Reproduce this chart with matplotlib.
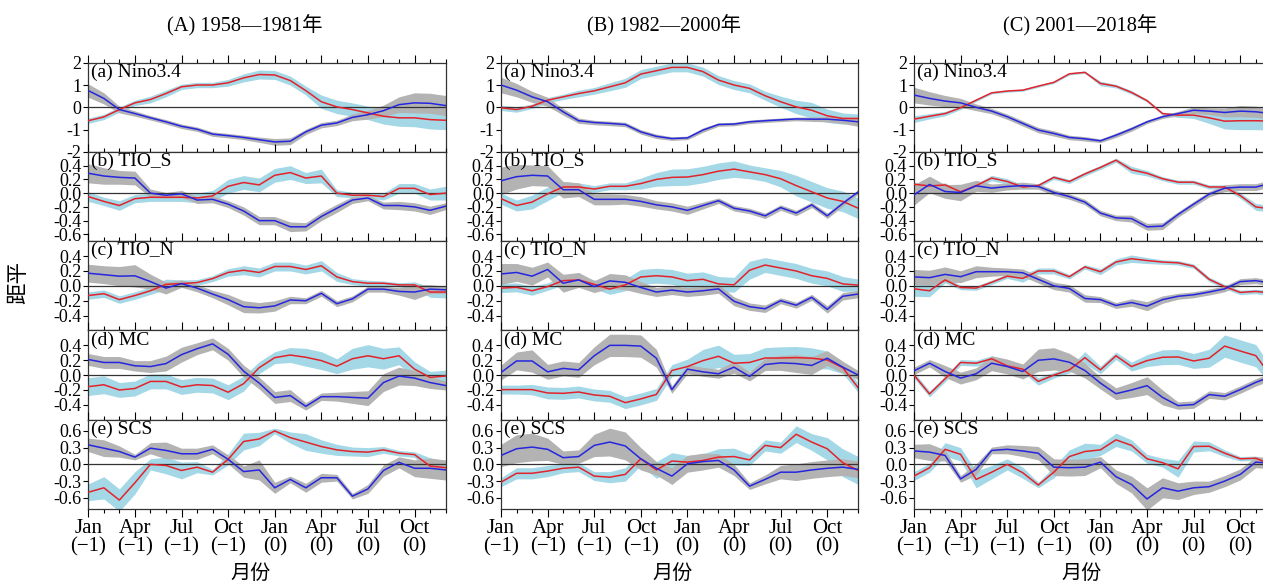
import numpy as np
import matplotlib
matplotlib.use("Agg")
import matplotlib.pyplot as plt
from matplotlib.ticker import FixedLocator, FormatStrFormatter

plt.rcParams['font.family'] = ['Liberation Serif', 'Noto Sans CJK SC', 'DejaVu Sans']
plt.rcParams['axes.unicode_minus'] = True

# ---------------- data ----------------
months = list(range(24))
xtick_pos = [0, 3, 6, 9, 12, 15, 18, 21]
xtick_labels = ["Jan\n(\u22121)", "Apr\n(\u22121)", "Jul\n(\u22121)", "Oct\n(\u22121)",
                "Jan\n(0)", "Apr\n(0)", "Jul\n(0)", "Oct\n(0)"]
column_titles = ["(A) 1958\u20141981年", "(B) 1982\u20142000年", "(C) 2001\u20142018年"]
panel_names = ["(a) Nino3.4", "(b) TIO_S", "(c) TIO_N", "(d) MC", "(e) SCS"]

# ---- Column A ----
nino_A_red = [-0.6, -0.43, -0.1, 0.2, 0.35, 0.62, 0.92, 1.0, 1.0, 1.1, 1.32, 1.47, 1.45, 1.2, 0.75, 0.25, 0.02, -0.1, -0.25, -0.4, -0.47, -0.47, -0.55, -0.58]
nino_A_red_sd = [0.12, 0.12, 0.12, 0.12, 0.15, 0.15, 0.12, 0.12, 0.12, 0.15, 0.18, 0.2, 0.2, 0.2, 0.2, 0.3, 0.3, 0.3, 0.3, 0.35, 0.38, 0.4, 0.42, 0.42]
nino_A_blue = [0.75, 0.4, -0.1, -0.28, -0.47, -0.65, -0.85, -0.98, -1.2, -1.27, -1.35, -1.45, -1.55, -1.52, -1.1, -0.8, -0.7, -0.45, -0.33, -0.15, 0.12, 0.2, 0.18, 0.08]
nino_A_blue_sd = [0.3, 0.25, 0.15, 0.12, 0.1, 0.1, 0.1, 0.1, 0.1, 0.1, 0.1, 0.12, 0.15, 0.15, 0.12, 0.12, 0.12, 0.15, 0.2, 0.25, 0.35, 0.45, 0.45, 0.45]

tios_A_red = [-0.05, -0.12, -0.18, -0.08, -0.06, -0.06, -0.06, -0.07, -0.04, 0.1, 0.155, 0.12, 0.26, 0.3, 0.22, 0.25, 0.0, -0.03, -0.03, -0.05, 0.07, 0.07, -0.02, 0.0]
tios_A_red_sd = [0.07, 0.06, 0.07, 0.06, 0.06, 0.06, 0.06, 0.07, 0.08, 0.1, 0.1, 0.1, 0.1, 0.1, 0.08, 0.1, 0.05, 0.04, 0.04, 0.05, 0.07, 0.07, 0.08, 0.1]
tios_A_blue = [0.29, 0.25, 0.23, 0.22, 0.0, -0.03, -0.01, -0.1, -0.09, -0.16, -0.26, -0.4, -0.4, -0.49, -0.49, -0.34, -0.22, -0.1, -0.07, -0.18, -0.18, -0.2, -0.25, -0.19]
tios_A_blue_sd = [0.14, 0.12, 0.1, 0.1, 0.06, 0.04, 0.05, 0.05, 0.05, 0.05, 0.06, 0.06, 0.06, 0.07, 0.06, 0.06, 0.06, 0.05, 0.04, 0.05, 0.06, 0.06, 0.06, 0.05]

tion_A_red = [-0.13, -0.105, -0.185, -0.13, -0.066, 0.02, 0.03, 0.044, 0.097, 0.18, 0.21, 0.18, 0.26, 0.26, 0.22, 0.27, 0.12, 0.057, 0.035, 0.035, 0.013, 0.013, -0.083, -0.083]
tion_A_red_sd = [0.05, 0.05, 0.05, 0.05, 0.05, 0.07, 0.05, 0.04, 0.04, 0.05, 0.06, 0.06, 0.06, 0.06, 0.06, 0.07, 0.06, 0.04, 0.04, 0.03, 0.03, 0.04, 0.07, 0.08]
tion_A_blue = [0.17, 0.15, 0.13, 0.135, 0.057, -0.03, 0.03, -0.03, -0.11, -0.185, -0.28, -0.295, -0.27, -0.19, -0.2, -0.1, -0.24, -0.175, -0.044, -0.044, -0.075, -0.083, -0.044, -0.053]
tion_A_blue_sd = [0.12, 0.12, 0.13, 0.15, 0.1, 0.08, 0.05, 0.05, 0.05, 0.07, 0.08, 0.07, 0.07, 0.05, 0.04, 0.04, 0.04, 0.04, 0.04, 0.04, 0.05, 0.1, 0.06, 0.05]

mc_A_red = [-0.155, -0.13, -0.2, -0.18, -0.085, -0.085, -0.16, -0.13, -0.14, -0.23, -0.115, 0.1, 0.235, 0.27, 0.24, 0.195, 0.12, 0.22, 0.26, 0.22, 0.26, 0.08, -0.03, -0.013]
mc_A_red_sd = [0.12, 0.12, 0.1, 0.1, 0.1, 0.1, 0.1, 0.1, 0.1, 0.1, 0.1, 0.08, 0.08, 0.1, 0.12, 0.12, 0.1, 0.14, 0.15, 0.14, 0.12, 0.1, 0.08, 0.08]
mc_A_blue = [0.21, 0.17, 0.17, 0.125, 0.115, 0.155, 0.275, 0.355, 0.42, 0.28, 0.053, -0.107, -0.3, -0.275, -0.42, -0.29, -0.29, -0.3, -0.31, -0.1, -0.013, -0.04, -0.1, -0.14]
mc_A_blue_sd = [0.08, 0.08, 0.08, 0.07, 0.08, 0.1, 0.1, 0.08, 0.08, 0.08, 0.08, 0.08, 0.08, 0.08, 0.05, 0.05, 0.06, 0.08, 0.1, 0.12, 0.12, 0.1, 0.08, 0.06]

scs_A_red = [-0.5, -0.42, -0.64, -0.33, 0.0, -0.02, -0.11, -0.05, -0.14, 0.09, 0.41, 0.455, 0.6, 0.48, 0.4, 0.32, 0.26, 0.23, 0.22, 0.26, 0.2, 0.175, -0.03, -0.06]
scs_A_red_sd = [0.15, 0.2, 0.2, 0.2, 0.1, 0.15, 0.15, 0.1, 0.05, 0.1, 0.15, 0.12, 0.05, 0.1, 0.15, 0.12, 0.1, 0.08, 0.08, 0.06, 0.05, 0.05, 0.15, 0.12]
scs_A_blue = [0.35, 0.29, 0.23, 0.13, 0.29, 0.25, 0.19, 0.19, 0.27, 0.09, -0.13, -0.1, -0.42, -0.27, -0.42, -0.24, -0.24, -0.57, -0.44, -0.11, 0.036, -0.07, -0.07, -0.1]
scs_A_blue_sd = [0.12, 0.15, 0.1, 0.05, 0.1, 0.15, 0.1, 0.1, 0.08, 0.08, 0.1, 0.18, 0.1, 0.06, 0.08, 0.08, 0.06, 0.05, 0.08, 0.1, 0.1, 0.15, 0.18, 0.18]

# ---- Column B ----
nino_B_red = [-0.02, -0.1, 0.05, 0.32, 0.47, 0.62, 0.74, 0.92, 1.1, 1.49, 1.64, 1.79, 1.79, 1.6, 1.22, 1.0, 0.85, 0.52, 0.25, 0.02, -0.13, -0.38, -0.5, -0.5]
nino_B_red_sd = [0.12, 0.12, 0.1, 0.12, 0.12, 0.15, 0.15, 0.18, 0.2, 0.2, 0.2, 0.2, 0.2, 0.2, 0.2, 0.2, 0.2, 0.2, 0.25, 0.3, 0.35, 0.3, 0.25, 0.2]
nino_B_blue = [1.0, 0.77, 0.47, 0.25, -0.2, -0.6, -0.68, -0.72, -0.77, -1.1, -1.3, -1.4, -1.37, -1.02, -0.77, -0.75, -0.65, -0.6, -0.56, -0.52, -0.53, -0.53, -0.58, -0.65]
nino_B_blue_sd = [0.35, 0.3, 0.25, 0.2, 0.15, 0.12, 0.1, 0.1, 0.1, 0.1, 0.1, 0.08, 0.08, 0.1, 0.08, 0.08, 0.08, 0.08, 0.08, 0.08, 0.1, 0.12, 0.15, 0.2]

tios_B_red = [-0.08, -0.18, -0.13, -0.01, 0.09, 0.09, 0.06, 0.1, 0.1, 0.14, 0.2, 0.23, 0.235, 0.27, 0.32, 0.35, 0.31, 0.27, 0.21, 0.11, 0.02, -0.07, -0.12, -0.22]
tios_B_red_sd = [0.08, 0.08, 0.1, 0.1, 0.08, 0.06, 0.05, 0.05, 0.05, 0.08, 0.1, 0.12, 0.12, 0.12, 0.12, 0.12, 0.1, 0.1, 0.12, 0.15, 0.15, 0.15, 0.15, 0.15]
tios_B_blue = [0.18, 0.24, 0.26, 0.25, 0.05, 0.05, -0.09, -0.09, -0.09, -0.12, -0.17, -0.2, -0.25, -0.18, -0.11, -0.22, -0.26, -0.33, -0.21, -0.29, -0.17, -0.33, -0.15, 0.02]
tios_B_blue_sd = [0.2, 0.18, 0.15, 0.15, 0.12, 0.1, 0.08, 0.08, 0.07, 0.07, 0.06, 0.06, 0.06, 0.05, 0.04, 0.04, 0.04, 0.04, 0.04, 0.04, 0.04, 0.04, 0.04, 0.03]

tion_B_red = [-0.03, -0.02, -0.066, -0.01, 0.07, 0.08, 0.02, -0.044, 0.013, 0.12, 0.136, 0.12, 0.07, 0.088, 0.026, 0.013, 0.21, 0.28, 0.24, 0.2, 0.136, 0.1, 0.026, 0.01]
tion_B_red_sd = [0.06, 0.06, 0.06, 0.05, 0.06, 0.06, 0.06, 0.07, 0.08, 0.1, 0.1, 0.1, 0.1, 0.1, 0.1, 0.1, 0.12, 0.1, 0.1, 0.1, 0.1, 0.1, 0.1, 0.08]
tion_B_blue = [0.16, 0.18, 0.13, 0.22, 0.035, 0.08, -0.01, 0.066, 0.048, -0.022, -0.083, -0.057, -0.083, -0.066, -0.04, -0.207, -0.28, -0.308, -0.2, -0.26, -0.154, -0.316, -0.14, -0.11]
tion_B_blue_sd = [0.14, 0.12, 0.12, 0.1, 0.12, 0.1, 0.08, 0.1, 0.1, 0.08, 0.06, 0.06, 0.06, 0.06, 0.06, 0.06, 0.05, 0.05, 0.04, 0.04, 0.04, 0.05, 0.05, 0.05]

mc_B_red = [-0.195, -0.195, -0.195, -0.24, -0.245, -0.227, -0.267, -0.285, -0.37, -0.32, -0.26, 0.062, 0.115, 0.195, 0.253, 0.16, 0.17, 0.23, 0.23, 0.235, 0.227, 0.204, 0.1, -0.173]
mc_B_red_sd = [0.06, 0.06, 0.07, 0.08, 0.08, 0.08, 0.08, 0.08, 0.08, 0.08, 0.08, 0.08, 0.1, 0.15, 0.15, 0.12, 0.12, 0.14, 0.15, 0.15, 0.14, 0.12, 0.08, 0.06]
mc_B_blue = [0.035, 0.19, 0.19, 0.044, 0.09, 0.07, 0.26, 0.4, 0.4, 0.39, 0.227, -0.195, 0.08, 0.044, 0.018, 0.107, -0.018, 0.142, 0.164, 0.155, 0.13, 0.227, 0.107, 0.0]
mc_B_blue_sd = [0.1, 0.12, 0.15, 0.1, 0.1, 0.1, 0.12, 0.15, 0.15, 0.15, 0.12, 0.05, 0.06, 0.06, 0.06, 0.08, 0.06, 0.08, 0.1, 0.12, 0.12, 0.1, 0.08, 0.06]

scs_B_red = [-0.32, -0.16, -0.16, -0.12, -0.07, -0.05, -0.21, -0.23, -0.18, 0.1, -0.1, 0.06, 0.04, 0.07, 0.13, 0.14, 0.08, 0.34, 0.3, 0.54, 0.4, 0.28, 0.03, -0.11]
scs_B_red_sd = [0.08, 0.1, 0.1, 0.1, 0.08, 0.08, 0.08, 0.1, 0.12, 0.12, 0.15, 0.15, 0.12, 0.12, 0.15, 0.15, 0.1, 0.1, 0.1, 0.15, 0.15, 0.2, 0.25, 0.25]
scs_B_blue = [0.16, 0.28, 0.31, 0.27, 0.12, 0.14, 0.34, 0.4, 0.33, 0.1, -0.07, -0.21, 0.01, 0.05, 0.07, -0.1, -0.39, -0.27, -0.14, -0.14, -0.1, -0.07, -0.05, -0.09]
scs_B_blue_sd = [0.2, 0.25, 0.25, 0.2, 0.12, 0.12, 0.2, 0.25, 0.25, 0.2, 0.12, 0.15, 0.15, 0.15, 0.12, 0.1, 0.06, 0.08, 0.12, 0.15, 0.15, 0.15, 0.15, 0.15]

# ---- Column C ----
nino_C_red = [-0.53, -0.4, -0.28, -0.02, 0.32, 0.65, 0.73, 0.77, 0.95, 1.12, 1.5, 1.57, 1.07, 0.95, 0.67, 0.3, -0.28, -0.35, -0.35, -0.47, -0.62, -0.6, -0.6, -0.62]
nino_C_red_sd = [0.15, 0.12, 0.1, 0.08, 0.06, 0.05, 0.05, 0.05, 0.05, 0.05, 0.05, 0.05, 0.1, 0.08, 0.08, 0.06, 0.06, 0.1, 0.15, 0.25, 0.35, 0.4, 0.4, 0.4]
nino_C_blue = [0.55, 0.4, 0.28, 0.2, 0.0, -0.17, -0.42, -0.72, -1.02, -1.17, -1.35, -1.41, -1.5, -1.25, -0.97, -0.65, -0.42, -0.28, -0.13, -0.17, -0.23, -0.17, -0.2, -0.28]
nino_C_blue_sd = [0.35, 0.3, 0.25, 0.2, 0.15, 0.12, 0.12, 0.12, 0.12, 0.12, 0.1, 0.1, 0.08, 0.1, 0.1, 0.08, 0.08, 0.1, 0.15, 0.15, 0.2, 0.25, 0.25, 0.25]

tios_C_red = [0.13, 0.105, 0.12, 0.02, 0.11, 0.22, 0.17, 0.09, 0.11, 0.23, 0.17, 0.28, 0.375, 0.48, 0.34, 0.29, 0.21, 0.16, 0.16, 0.09, 0.09, -0.035, -0.2, -0.23]
tios_C_red_sd = [0.03, 0.03, 0.03, 0.03, 0.03, 0.04, 0.04, 0.03, 0.03, 0.03, 0.03, 0.03, 0.03, 0.03, 0.05, 0.04, 0.03, 0.03, 0.03, 0.03, 0.03, 0.04, 0.05, 0.05]
tios_C_blue = [-0.025, 0.127, 0.024, 0.01, 0.107, 0.073, 0.097, 0.11, 0.097, 0.01, -0.05, -0.13, -0.29, -0.36, -0.37, -0.49, -0.48, -0.31, -0.16, -0.015, 0.073, 0.088, 0.088, 0.146]
tios_C_blue_sd = [0.15, 0.12, 0.1, 0.12, 0.08, 0.06, 0.05, 0.05, 0.04, 0.04, 0.04, 0.04, 0.04, 0.04, 0.05, 0.05, 0.05, 0.04, 0.04, 0.04, 0.05, 0.05, 0.05, 0.05]

tion_C_red = [-0.04, -0.066, 0.08, -0.022, -0.03, 0.048, 0.13, 0.1, 0.2, 0.2, 0.123, 0.255, 0.19, 0.32, 0.365, 0.34, 0.32, 0.31, 0.264, 0.088, -0.01, -0.088, -0.075, -0.097]
tion_C_red_sd = [0.1, 0.08, 0.04, 0.03, 0.03, 0.03, 0.03, 0.05, 0.04, 0.04, 0.03, 0.03, 0.04, 0.04, 0.05, 0.04, 0.03, 0.03, 0.03, 0.03, 0.03, 0.03, 0.03, 0.04]
tion_C_blue = [0.12, 0.11, 0.154, 0.123, 0.19, 0.19, 0.19, 0.176, 0.088, 0.0, -0.035, -0.17, -0.185, -0.264, -0.224, -0.273, -0.185, -0.14, -0.12, -0.083, -0.04, 0.057, 0.07, 0.035]
tion_C_blue_sd = [0.1, 0.1, 0.1, 0.08, 0.08, 0.06, 0.05, 0.05, 0.05, 0.05, 0.05, 0.05, 0.04, 0.04, 0.05, 0.06, 0.05, 0.04, 0.04, 0.04, 0.04, 0.04, 0.04, 0.04]

mc_C_red = [0.0, -0.253, -0.05, 0.17, 0.16, 0.22, 0.124, 0.08, -0.085, 0.0, 0.07, 0.235, 0.07, 0.26, 0.115, 0.195, 0.24, 0.244, 0.19, 0.227, 0.39, 0.324, 0.262, -0.018]
mc_C_red_sd = [0.04, 0.04, 0.04, 0.04, 0.04, 0.04, 0.04, 0.04, 0.05, 0.04, 0.04, 0.08, 0.05, 0.05, 0.06, 0.08, 0.1, 0.1, 0.1, 0.12, 0.15, 0.15, 0.15, 0.12]
mc_C_blue = [0.058, 0.16, 0.049, -0.04, 0.018, 0.16, 0.115, 0.049, 0.2, 0.218, 0.173, 0.062, -0.107, -0.25, -0.2, -0.142, -0.3, -0.41, -0.396, -0.262, -0.284, -0.195, -0.098, -0.018]
mc_C_blue_sd = [0.05, 0.05, 0.08, 0.08, 0.08, 0.1, 0.1, 0.1, 0.15, 0.15, 0.12, 0.1, 0.08, 0.08, 0.1, 0.12, 0.1, 0.05, 0.05, 0.05, 0.05, 0.05, 0.05, 0.05]

scs_C_red = [-0.21, -0.06, 0.27, 0.18, -0.27, -0.14, 0.0, -0.15, -0.37, -0.14, 0.14, 0.23, 0.26, 0.44, 0.34, 0.1, 0.03, -0.08, 0.32, 0.325, 0.2, 0.1, 0.11, 0.0]
scs_C_red_sd = [0.08, 0.08, 0.12, 0.12, 0.15, 0.12, 0.1, 0.1, 0.05, 0.1, 0.12, 0.15, 0.1, 0.12, 0.1, 0.08, 0.08, 0.15, 0.1, 0.08, 0.06, 0.04, 0.04, 0.04]
scs_C_blue = [0.24, 0.22, 0.16, -0.26, -0.09, 0.25, 0.27, 0.24, 0.2, -0.05, -0.06, -0.05, 0.04, -0.22, -0.36, -0.62, -0.42, -0.48, -0.42, -0.4, -0.3, -0.18, 0.04, 0.02]
scs_C_blue_sd = [0.12, 0.15, 0.1, 0.06, 0.1, 0.06, 0.08, 0.1, 0.12, 0.15, 0.15, 0.15, 0.1, 0.12, 0.15, 0.2, 0.18, 0.15, 0.12, 0.1, 0.1, 0.1, 0.1, 0.1]

columns = [
    [(nino_A_red, nino_A_red_sd, nino_A_blue, nino_A_blue_sd),
     (tios_A_red, tios_A_red_sd, tios_A_blue, tios_A_blue_sd),
     (tion_A_red, tion_A_red_sd, tion_A_blue, tion_A_blue_sd),
     (mc_A_red, mc_A_red_sd, mc_A_blue, mc_A_blue_sd),
     (scs_A_red, scs_A_red_sd, scs_A_blue, scs_A_blue_sd)],
    [(nino_B_red, nino_B_red_sd, nino_B_blue, nino_B_blue_sd),
     (tios_B_red, tios_B_red_sd, tios_B_blue, tios_B_blue_sd),
     (tion_B_red, tion_B_red_sd, tion_B_blue, tion_B_blue_sd),
     (mc_B_red, mc_B_red_sd, mc_B_blue, mc_B_blue_sd),
     (scs_B_red, scs_B_red_sd, scs_B_blue, scs_B_blue_sd)],
    [(nino_C_red, nino_C_red_sd, nino_C_blue, nino_C_blue_sd),
     (tios_C_red, tios_C_red_sd, tios_C_blue, tios_C_blue_sd),
     (tion_C_red, tion_C_red_sd, tion_C_blue, tion_C_blue_sd),
     (mc_C_red, mc_C_red_sd, mc_C_blue, mc_C_blue_sd),
     (scs_C_red, scs_C_red_sd, scs_C_blue, scs_C_blue_sd)],
]

row_ylims = [(-2, 2), (-0.7, 0.6), (-0.6, 0.6), (-0.6, 0.6), (-0.8, 0.8)]
row_yticks = [[-2, -1, 0, 1, 2],
              [-0.6, -0.4, -0.2, 0.0, 0.2, 0.4],
              [-0.4, -0.2, 0.0, 0.2, 0.4],
              [-0.4, -0.2, 0.0, 0.2, 0.4],
              [-0.6, -0.3, 0.0, 0.3, 0.6]]
row_fmt = ['%d', '%.1f', '%.1f', '%.1f', '%.1f']

# ---------------- layout ----------------
W, H = 1263, 583
fig = plt.figure(figsize=(W / 100, H / 100), dpi=100)
col_left = [88.3, 501.0, 914.0]
ax_w = 357.3
top0 = 62.7
bottom0 = 509.0
row_h = (bottom0 - top0) / 5

C_CYAN = '#a4d8e6'
C_GRAY = '#b3b3b3'
C_RED = '#e3232b'
C_BLUE = '#2626e0'
FS = 15
FS_Y = 13

for c in range(3):
    for r in range(5):
        top = top0 + r * row_h
        ax = fig.add_axes([col_left[c] / W, 1 - (top + row_h) / H, ax_w / W, row_h / H])
        red, red_sd, blue, blue_sd = columns[c][r]
        x = np.array(months)
        red = np.array(red); red_sd = np.array(red_sd)
        blue = np.array(blue); blue_sd = np.array(blue_sd)
        ax.fill_between(x, red - red_sd, red + red_sd, color=C_CYAN, lw=0, zorder=1)
        ax.fill_between(x, blue - blue_sd, blue + blue_sd, color=C_GRAY, lw=0, zorder=2)
        ax.axhline(0, color='#333333', lw=0.9, zorder=3)
        ax.plot(x, red, color=C_RED, lw=1.1, zorder=4)
        ax.plot(x, blue, color=C_BLUE, lw=1.1, zorder=5)
        ax.set_xlim(0, 23)
        ax.set_ylim(*row_ylims[r])
        ax.yaxis.set_major_locator(FixedLocator(row_yticks[r]))
        ax.yaxis.set_major_formatter(FormatStrFormatter(row_fmt[r]))
        ax.xaxis.set_major_locator(FixedLocator(xtick_pos))
        ax.xaxis.set_minor_locator(FixedLocator(months))
        ax.tick_params(axis='y', direction='out', length=3.5, width=0.8, labelsize=FS_Y, pad=1.5)
        last = (r == 4)
        ax.tick_params(axis='x', which='major', direction='out', length=5.5, width=0.8,
                       top=True, bottom=last, labelbottom=last, labelsize=FS, pad=2)
        ax.tick_params(axis='x', which='minor', direction='out', length=3, width=0.8,
                       top=True, bottom=last)
        if last:
            ax.set_xticklabels(xtick_labels, linespacing=0.95)
        for s in ax.spines.values():
            s.set_linewidth(0.9)
            s.set_color('#333333')
        ax.text(0.008, 0.99, panel_names[r], transform=ax.transAxes, ha='left', va='top',
                fontsize=14, zorder=6)

# column titles and x labels
title_x = [245, 664, 1080]
xlabel_x = [251, 673, 1082]
for c in range(3):
    fig.text(title_x[c] / W, 1 - 25 / H, column_titles[c], ha='center', va='center', fontsize=14.7)
    fig.text(xlabel_x[c] / W, 1 - 574 / H, "月份", ha='center', va='center', fontsize=14.5)

fig.text(20 / W, 1 - 283 / H, "距平", ha='center', va='center', rotation=90, fontsize=15.5)

fig.savefig('out.png', dpi=100)
